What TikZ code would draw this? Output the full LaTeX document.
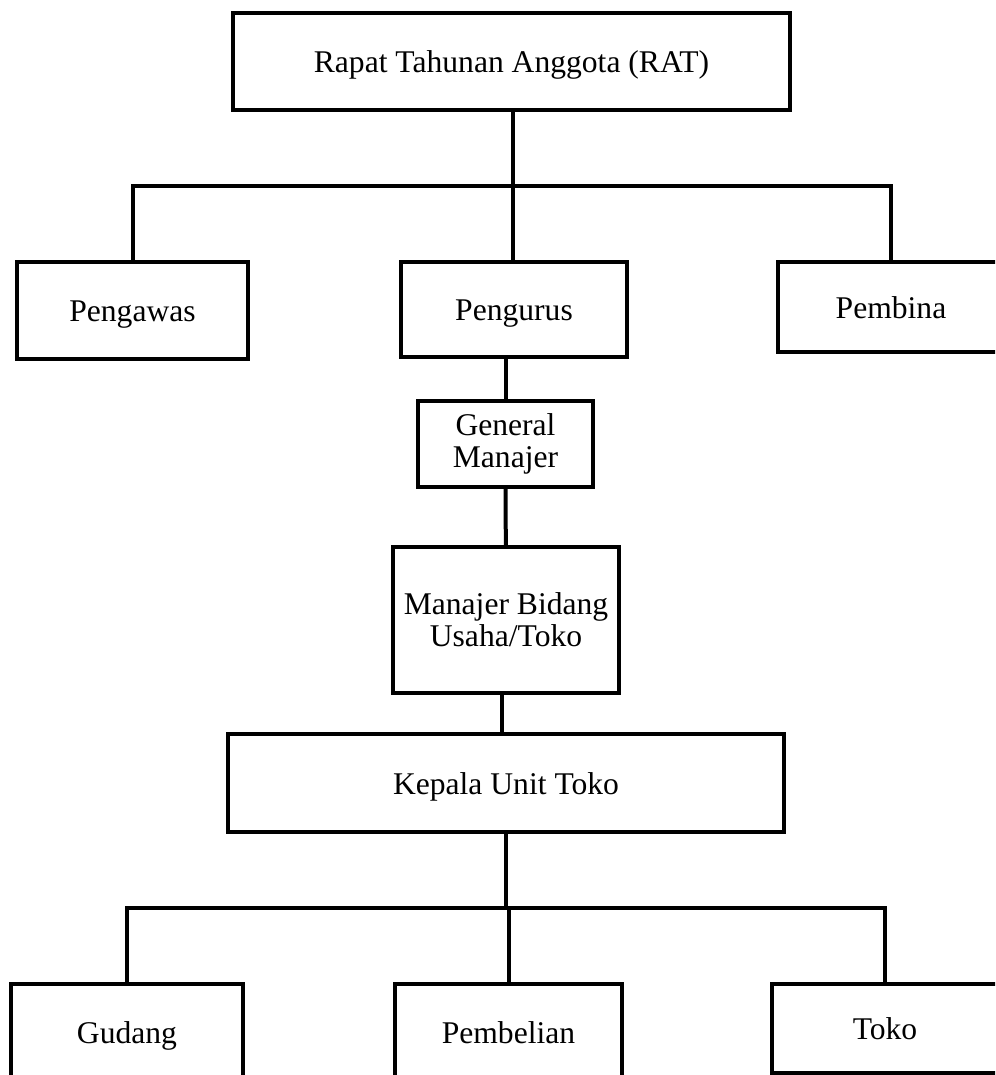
\documentclass[tikz,border=0pt]{standalone}
\usepackage{fontspec}
\setmainfont{Liberation Serif}
\begin{document}
\begin{tikzpicture}[x=0.5pt,y=-0.5pt,
  kotak/.style={draw, line width=2pt, align=center, inner sep=0pt, font=\fontsize{15.8}{16}\selectfont},
  kotaksatu/.style={kotak, text height=12pt, text depth=1pt},
  garis/.style={line width=2pt}]
\useasboundingbox (0,0) rectangle (995,1075);
\clip (0,0) rectangle (995,1075);
% tingkat atas
\node [kotaksatu, minimum width=278.5pt, minimum height=48.5pt] (rat) at (511.5,61.5) {Rapat Tahunan Anggota (RAT)};
\node [kotaksatu, minimum width=115.5pt, minimum height=48.5pt] (pengawas) at (132.5,310.5) {Pengawas};
\node [kotaksatu, minimum width=113pt, minimum height=47.5pt] (pengurus) at (514,309.5) {Pengurus};
\node [kotaksatu, minimum width=113pt, minimum height=45pt] (pembina) at (891,307) {Pembina};
% manajemen
\node [kotak, minimum width=87.5pt, minimum height=43pt] (gm) at (505.5,444) {General\\Manajer};
\node [kotak, minimum width=113pt, minimum height=73pt] (mbu) at (506,620) {Manajer Bidang\\Usaha/Toko};
\node [kotaksatu, minimum width=278pt, minimum height=49pt] (kut) at (506,783) {Kepala Unit Toko};
% unit bawah
\node [kotaksatu, minimum width=116pt, minimum height=48pt] (gudang) at (127,1032) {Gudang};
\node [kotaksatu, minimum width=113.5pt, minimum height=48pt] (pembelian) at (508.5,1032) {Pembelian};
\node [kotaksatu, minimum width=113pt, minimum height=44.5pt] (toko) at (885,1028.5) {Toko};
\coordinate (busatas) at (512.5,186);
\coordinate (busbawah) at (506,908);
\draw [garis] (rat.south -| busatas) -- (busatas);
\draw [garis] (pengawas.north) |- (busatas) -| (pembina.north);
\draw [garis] (busatas) -- (busatas |- pengurus.north);
\draw [garis] (gm.north) -- (gm.north |- pengurus.south);
\draw [garis] (gm) -- (mbu);
\draw [garis] ([xshift=-2pt]mbu.south) -- ([xshift=-2pt]kut.north);
\draw [garis] (kut) -- (busbawah);
\draw [garis] (gudang.north) |- (busbawah) -| (toko.north);
\draw [garis] (pembelian.north) -- (pembelian.north |- busbawah);
\end{tikzpicture}
\end{document}
